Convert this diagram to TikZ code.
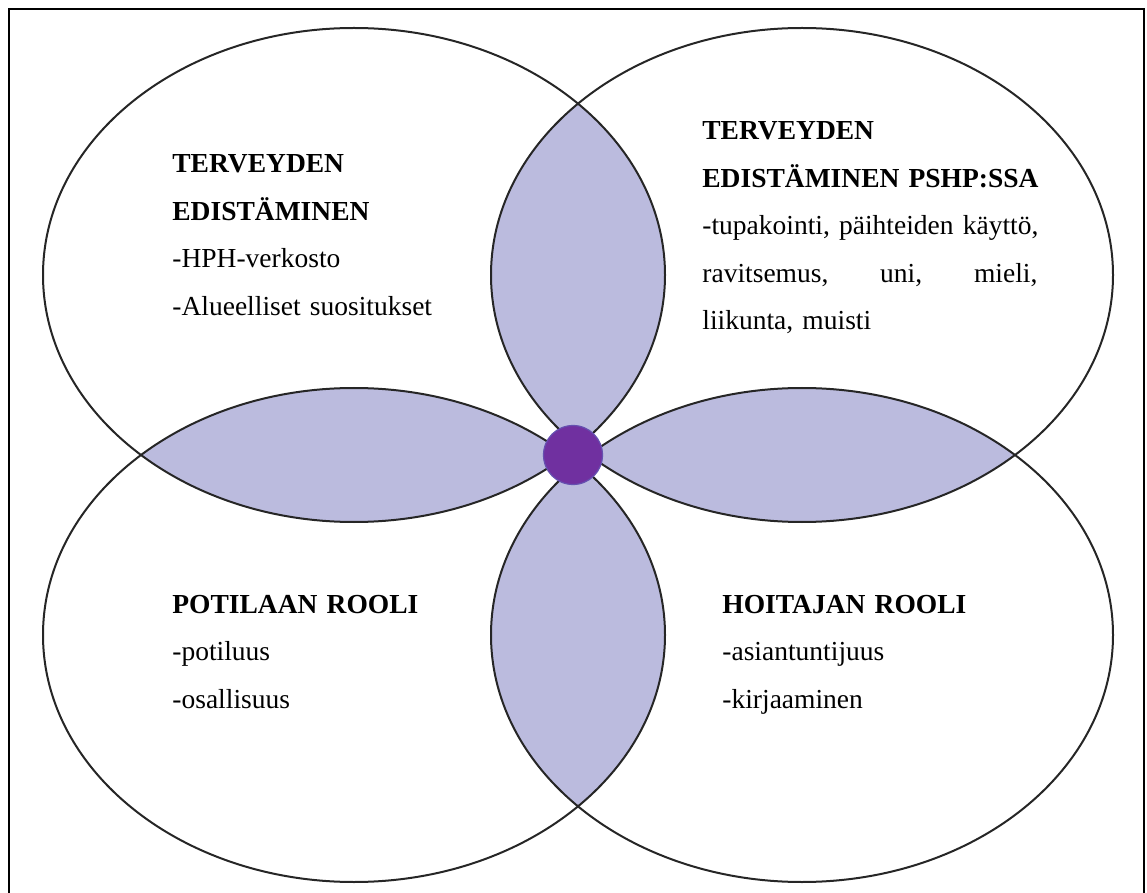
\documentclass[tikz,border=0pt]{standalone}
\usepackage{fontspec}
\setmainfont{Liberation Serif}
\usepackage{tikz}
\usepackage{xcolor}
\usetikzlibrary{positioning}
\definecolor{Petal}{HTML}{BBBBDE}
\definecolor{Core}{HTML}{7030A0}
\definecolor{CoreEdge}{HTML}{6650B0}
\definecolor{Rim}{HTML}{262626}

\begin{document}
\begin{tikzpicture}[x=0.5pt,y=-0.5pt,
  rim/.style={Rim,line width=1pt},
  blocktext/.style={anchor=base west,inner sep=0pt,align=left,text width=#1,
    font=\fontsize{13.75}{23.75}\selectfont\frenchspacing}]
  \useasboundingbox (0,0) rectangle (1147,893);
  \coordinate (tl) at (354,275);
  \coordinate (tr) at (802,275);
  \coordinate (bl) at (354,635);
  \coordinate (br) at (802,635);
  % overlaps of neighbouring ellipses
  \foreach \a/\b in {tl/tr,tl/bl,tr/br,bl/br}{
    \begin{scope}
      \clip (\a) ellipse [x radius=311,y radius=247];
      \fill[Petal] (\b) ellipse [x radius=311,y radius=247];
    \end{scope}
  }
  \foreach \c in {tl,tr,bl,br}
    \draw[rim] (\c) ellipse [x radius=311,y radius=247];
  \node[circle,fill=Core,draw=CoreEdge,line width=0.6pt,inner sep=0pt,minimum size=29.5pt] (core) at (573,455) {};
  \draw[line width=1pt] (9,893) -- (9,9) -- (1144,9) -- (1144,893);
  % texts
  \node[blocktext=180pt] (promo) at (172,173)
    {\textbf{TERVEYDEN}\\ \textbf{EDISTÄMINEN}\\ -HPH-verkosto\\ -Alueelliset suositukset};
  \node[blocktext=210pt] (pshp) at (702,140)
    {\textbf{TERVEYDEN}\\ \textbf{EDISTÄMINEN PSHP:SSA}\\ -tupakointi, päihteiden käyttö,\\
     \makebox[167.5pt][l]{ravitsemus,\hfill uni,\hfill mieli,}\\ liikunta, muisti};
  \node[blocktext=180pt] (patient) at (172,613)
    {\textbf{POTILAAN ROOLI}\\ -potiluus\\ -osallisuus};
  \node[blocktext=180pt] (nurse) at (722,613)
    {\textbf{HOITAJAN ROOLI}\\ -asiantuntijuus\\ -kirjaaminen};
\end{tikzpicture}
\end{document}
